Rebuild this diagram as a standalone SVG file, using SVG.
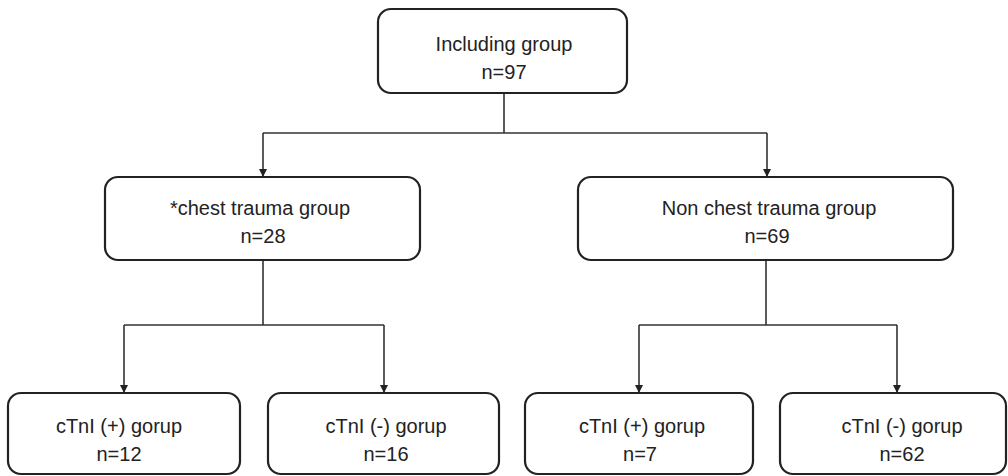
<svg xmlns="http://www.w3.org/2000/svg" width="1008" height="476" viewBox="0 0 1008 476">
<style>
.box{fill:#fff;stroke:#222;stroke-width:2.2}
.t{font-family:"Liberation Sans",Arial,sans-serif;font-size:20px;fill:#222;text-anchor:middle}
.c{fill:none;stroke:#333;stroke-width:1.6}
</style>
<defs>
<marker id="ah" markerWidth="8" markerHeight="8" refX="7" refY="4" orient="auto" markerUnits="userSpaceOnUse">
<path d="M0,0 L8,4 L0,8 Z" fill="#222"/>
</marker>
</defs>
<rect width="1008" height="476" fill="#fff"/>
<g id="connectors">
<path class="c" d="M504,93 V133 M263,133 H767"/>
<path class="c" d="M263,133 V176" marker-end="url(#ah)"/>
<path class="c" d="M767,133 V176" marker-end="url(#ah)"/>
<path class="c" d="M263,260 V325 M124,325 H384"/>
<path class="c" d="M124,325 V392" marker-end="url(#ah)"/>
<path class="c" d="M384,325 V392" marker-end="url(#ah)"/>
<path class="c" d="M766,260 V325 M639,325 H897"/>
<path class="c" d="M639,325 V392" marker-end="url(#ah)"/>
<path class="c" d="M897,325 V392" marker-end="url(#ah)"/>
</g>
<g id="n-including">
<rect class="box" x="378" y="9" width="249" height="84" rx="13"/>
<text class="t" x="504" y="51">Including group</text>
<text class="t" x="504" y="79">n=97</text>
</g>
<g id="n-chest">
<rect class="box" x="105" y="177" width="315" height="83" rx="13"/>
<text class="t" x="260" y="215">*chest trauma group</text>
<text class="t" x="263" y="243">n=28</text>
</g>
<g id="n-nonchest">
<rect class="box" x="578" y="177" width="375" height="83" rx="13"/>
<text class="t" x="769" y="215">Non chest trauma group</text>
<text class="t" x="767" y="243">n=69</text>
</g>
<g id="n-c1">
<rect class="box" x="8" y="393" width="232" height="81" rx="13"/>
<text class="t" x="119" y="433">cTnI (+) gorup</text>
<text class="t" x="119" y="461">n=12</text>
</g>
<g id="n-c2">
<rect class="box" x="268" y="393" width="231" height="81" rx="13"/>
<text class="t" x="386" y="433">cTnI (-) gorup</text>
<text class="t" x="386" y="461">n=16</text>
</g>
<g id="n-c3">
<rect class="box" x="525" y="393" width="228" height="81" rx="13"/>
<text class="t" x="642" y="433">cTnI (+) gorup</text>
<text class="t" x="640" y="461">n=7</text>
</g>
<g id="n-c4">
<rect class="box" x="780" y="393" width="226" height="81" rx="13"/>
<text class="t" x="902" y="433">cTnI (-) gorup</text>
<text class="t" x="902" y="461">n=62</text>
</g>
</svg>
